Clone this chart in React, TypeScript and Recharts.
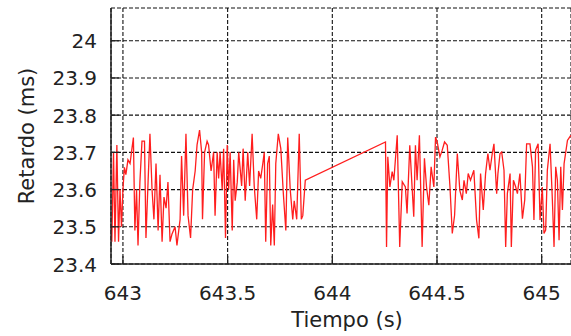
import React from 'react';
import { LineChart, Line, XAxis, YAxis, CartesianGrid } from 'recharts';

// tiempo (s) y retardo (ms)
const tiempo = [
  642.943, 642.947, 642.955, 642.962, 642.971, 642.979, 642.986, 642.993, 643.0, 643.007,
  643.014, 643.024, 643.034, 643.043, 643.05, 643.057, 643.065, 643.072, 643.081, 643.091,
  643.103, 643.11, 643.12, 643.129, 643.139, 643.148, 643.158, 643.168, 643.177, 643.187,
  643.196, 643.206, 643.215, 643.225, 643.234, 643.249, 643.258, 643.273, 643.28, 643.29,
  643.301, 643.311, 643.323, 643.333, 643.345, 643.354, 643.366, 643.376, 643.38, 643.39,
  643.402, 643.409, 643.421, 643.433, 643.44, 643.45, 643.457, 643.464, 643.474, 643.481,
  643.49, 643.498, 643.505, 643.512, 643.522, 643.529, 643.536, 643.546, 643.553, 643.567,
  643.574, 643.584, 643.596, 643.605, 643.617, 643.627, 643.639, 643.648, 643.658, 643.668,
  643.675, 643.682, 643.691, 643.699, 643.706, 643.715, 643.723, 643.73, 643.742, 643.754,
  643.766, 643.778, 643.787, 643.799, 643.811, 643.818, 643.83, 643.842, 643.852, 643.859,
  643.871,
  644.254, 644.259, 644.265, 644.275, 644.286, 644.294, 644.31, 644.322, 644.334, 644.349,
  644.357, 644.37, 644.381, 644.389, 644.397, 644.405, 644.416, 644.429, 644.44, 644.45,
  644.461, 644.472, 644.485, 644.493, 644.501, 644.514, 644.525, 644.536, 644.549, 644.562,
  644.573, 644.584, 644.597, 644.609, 644.621, 644.629, 644.64, 644.649, 644.66, 644.676,
  644.689, 644.7, 644.708, 644.721, 644.732, 644.743, 644.753, 644.764, 644.772, 644.785,
  644.791, 644.801, 644.809, 644.82, 644.828, 644.836, 644.849, 644.855, 644.865, 644.876,
  644.884, 644.896, 644.908, 644.919, 644.928, 644.944, 644.956, 644.963, 644.971, 644.983,
  644.992, 645.003, 645.011, 645.019, 645.027, 645.04, 645.051, 645.059, 645.067, 645.075,
  645.083, 645.091, 645.099, 645.107, 645.123, 645.139,
];

const retardo = [
  23.5, 23.46, 23.7, 23.46, 23.72, 23.46, 23.6, 23.5, 23.6, 23.66,
  23.64, 23.68, 23.67, 23.71, 23.74, 23.49, 23.6, 23.45, 23.62, 23.73,
  23.73, 23.47, 23.62, 23.75, 23.6, 23.52, 23.67, 23.49, 23.64, 23.46,
  23.58, 23.55, 23.62, 23.46, 23.48, 23.5, 23.45, 23.52, 23.69, 23.53,
  23.75, 23.53, 23.47, 23.6, 23.65, 23.72, 23.76, 23.7, 23.52, 23.7,
  23.73, 23.72, 23.65, 23.7, 23.53, 23.7, 23.63, 23.7, 23.6, 23.71,
  23.47, 23.72, 23.6, 23.7, 23.49, 23.68, 23.57, 23.62, 23.7, 23.61,
  23.71, 23.57, 23.7, 23.61, 23.75, 23.61, 23.52, 23.65, 23.63, 23.67,
  23.7, 23.46, 23.67, 23.69, 23.45, 23.56, 23.45, 23.67, 23.75, 23.71,
  23.59, 23.49, 23.74, 23.6, 23.52, 23.57, 23.52, 23.75, 23.52, 23.53,
  23.625,
  23.728, 23.446, 23.688, 23.607, 23.648, 23.625, 23.746, 23.446, 23.621, 23.607,
  23.536, 23.719, 23.607, 23.527, 23.719, 23.625, 23.746, 23.446, 23.684, 23.607,
  23.558, 23.661, 23.607, 23.741, 23.728, 23.688, 23.706, 23.728, 23.719, 23.607,
  23.482, 23.531, 23.697, 23.598, 23.572, 23.625, 23.589, 23.643, 23.625, 23.652,
  23.518, 23.469, 23.643, 23.545, 23.643, 23.697, 23.652, 23.697, 23.723, 23.589,
  23.643, 23.697, 23.701, 23.652, 23.446, 23.589, 23.643, 23.446, 23.625, 23.607,
  23.589, 23.643, 23.522, 23.572, 23.723, 23.723, 23.661, 23.518, 23.706, 23.723,
  23.518, 23.607, 23.482, 23.491, 23.652, 23.723, 23.572, 23.446, 23.661, 23.625,
  23.464, 23.661, 23.545, 23.67, 23.732, 23.746,
];

const xTicks = [643, 643.5, 644, 644.5, 645];
const yTicks = [23.4, 23.5, 23.6, 23.7, 23.8, 23.9, 24];

const data = tiempo.map((t, i) => ({ t, v: retardo[i] }));

const FONT = '"DejaVu Sans", sans-serif';
const INK = '#222';
const xDomain = [642.943, 645.14];

const BottomTick = ({ x, y, payload }: any) => (
  <g>
    <line x1={x} y1={y} x2={x} y2={y - 8} stroke={INK} strokeWidth={1.3} />
    <text x={x} y={y + 36} textAnchor="middle" fontSize={20} fontFamily={FONT} fill={INK}>
      {payload.value}
    </text>
  </g>
);

const TopTick = ({ x, y }: any) => (
  <line x1={x} y1={y} x2={x} y2={y + 8} stroke={INK} strokeWidth={1.3} />
);

const LeftTick = ({ x, y, payload }: any) => (
  <g>
    <line x1={x} y1={y} x2={x + 8} y2={y} stroke={INK} strokeWidth={1.3} />
    <text x={x - 14} y={y + 7.5} textAnchor="end" fontSize={20} fontFamily={FONT} fill={INK}>
      {payload.value}
    </text>
  </g>
);

export default function App() {
  return (
    <div style={{ position: 'absolute', left: 0, top: 0, width: 571, height: 336, background: '#fff' }}>
      <LineChart width={571} height={336} data={data} margin={{ top: 8, right: 0, bottom: 0, left: 0 }}>
        <CartesianGrid stroke="#111" strokeWidth={1.1} strokeDasharray="4 2" />
        <XAxis
          dataKey="t"
          type="number"
          domain={xDomain}
          ticks={xTicks}
          allowDataOverflow
          height={72}
          tickSize={0}
          tickMargin={0}
          tick={<BottomTick />}
          axisLine={{ stroke: INK, strokeWidth: 1.5 }}
          label={{
            content: () => (
              <text x={347} y={327} textAnchor="middle" fontSize={21} fontFamily={FONT} fill={INK}>
                Tiempo (s)
              </text>
            ),
          }}
        />
        <XAxis
          xAxisId="top"
          orientation="top"
          dataKey="t"
          type="number"
          domain={xDomain}
          ticks={xTicks}
          allowDataOverflow
          height={0}
          tickSize={0}
          tickMargin={0}
          tick={<TopTick />}
          axisLine={{ stroke: INK, strokeWidth: 1.5 }}
        />
        <YAxis
          type="number"
          domain={[23.4, 24.088]}
          ticks={yTicks}
          allowDataOverflow
          width={111}
          tickSize={0}
          tickMargin={0}
          tick={<LeftTick />}
          axisLine={{ stroke: INK, strokeWidth: 1.5 }}
          label={{
            content: () => (
              <text
                x={27}
                y={136}
                transform="rotate(-90 27 136)"
                textAnchor="middle"
                dominantBaseline="central"
                fontSize={21}
                fontFamily={FONT}
                fill={INK}
              >
                Retardo (ms)
              </text>
            ),
          }}
        />
        <Line
          type="linear"
          dataKey="v"
          stroke="#ff1e1e"
          strokeWidth={1.3}
          dot={false}
          isAnimationActive={false}
        />
      </LineChart>
    </div>
  );
}
